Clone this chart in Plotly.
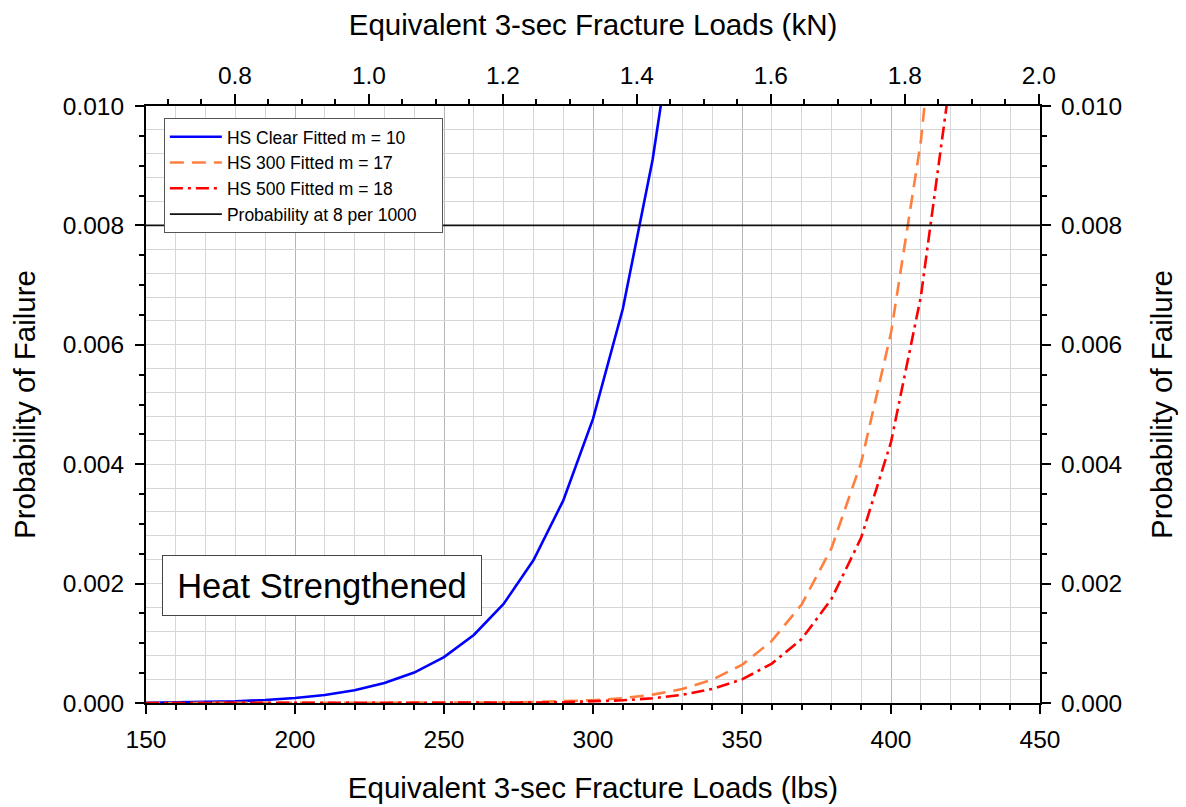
import plotly.graph_objects as go

# ---------------- data ----------------
loads_clear = [150, 160, 170, 180, 190, 200, 210, 220, 230, 240, 250, 260, 270,
               280, 290, 300, 310, 320, 330]
p_clear = [0.0000046, 0.0000087, 0.000016, 0.000028, 0.000050, 0.000083, 0.000134,
           0.000215, 0.000335, 0.00051, 0.00077, 0.00114, 0.00166, 0.00239,
           0.00339, 0.00476, 0.0066, 0.0091, 0.0124]

loads_hs = [150, 160, 170, 180, 190, 200, 210, 220, 230, 240, 250, 260, 270, 280,
            290, 300, 310, 320, 330, 340, 350, 360, 370, 380, 390, 400, 410, 420]
p_hs300 = [0.0, 0.000000001, 0.000000002, 0.000000006, 0.00000002, 0.00000005,
           0.0000001, 0.0000003, 0.0000006, 0.0000011, 0.0000021, 0.0000041,
           0.0000078, 0.0000145, 0.000026, 0.000047, 0.000081, 0.00014, 0.000235,
           0.00039, 0.00064, 0.00104, 0.00165, 0.00259, 0.00403, 0.0062, 0.0094, 0.0143]
p_hs500 = [0.0, 0.0, 0.000000001, 0.000000003, 0.000000008, 0.00000002,
           0.00000005, 0.0000001, 0.00000025, 0.0000005, 0.00000093, 0.0000019,
           0.0000037, 0.0000071, 0.0000134, 0.000025, 0.000045, 0.000079, 0.000137,
           0.000235, 0.000395, 0.00066, 0.00107, 0.00174, 0.00277, 0.00437, 0.0068, 0.0105]

threshold_x = [150, 450]
threshold_y = [0.008, 0.008]

series_names = ["HS Clear Fitted m = 10", "HS 300 Fitted m = 17",
                "HS 500 Fitted m = 18", "Probability at 8 per 1000\u00a0\u00a0\u00a0\u00a0"]

LBS_TO_KN = 0.00444822
X_RANGE = [150, 450]
Y_RANGE = [0, 0.010]

FONT = "Arial, Liberation Sans, sans-serif"

fig = go.Figure()

fig.add_trace(go.Scatter(x=loads_clear, y=p_clear, mode="lines", name=series_names[0],
                         line=dict(color="#0000ff", width=2.6)))
fig.add_trace(go.Scatter(x=loads_hs, y=p_hs300, mode="lines", name=series_names[1],
                         line=dict(color="#ff7f3f", width=2.6, dash="14px,8px")))
fig.add_trace(go.Scatter(x=loads_hs, y=p_hs500, mode="lines", name=series_names[2],
                         line=dict(color="#ff0000", width=2.6, dash="13px,5px,3px,5px")))
fig.add_trace(go.Scatter(x=threshold_x, y=threshold_y, mode="lines", name=series_names[3],
                         line=dict(color="#111111", width=1.8)))

# helper traces so the extra axes are drawn
fig.add_trace(go.Scatter(x=[X_RANGE[0] * LBS_TO_KN], y=[None], xaxis="x2", yaxis="y",
                         showlegend=False, hoverinfo="skip", mode="lines"))
fig.add_trace(go.Scatter(x=[X_RANGE[0]], y=[None], xaxis="x", yaxis="y2",
                         showlegend=False, hoverinfo="skip", mode="lines"))
fig.add_trace(go.Scatter(x=[X_RANGE[0]], y=[None], xaxis="x", yaxis="y3",
                         showlegend=False, hoverinfo="skip", mode="lines"))

tickfont = dict(family=FONT, size=24.5, color="black")
titlefont_x = dict(family=FONT, size=29.5, color="black")
titlefont_y = dict(family=FONT, size=29.5, color="black")

fig.update_layout(
    width=1186, height=807,
    margin=dict(l=138, r=154, t=98, b=112, autoexpand=False),
    paper_bgcolor="white", plot_bgcolor="white",
    font=dict(family=FONT, color="black"),
    showlegend=True,
    legend=dict(x=0.02, y=0.98, xanchor="left", yanchor="top",
                bgcolor="white", bordercolor="#555555", borderwidth=1,
                font=dict(family=FONT, size=17.5, color="black"),
                tracegroupgap=0, itemwidth=52),
    xaxis=dict(range=X_RANGE, dtick=50, tick0=0, showline=True, linecolor="black",
               linewidth=2, ticks="outside", ticklen=9, tickwidth=1.5, tickcolor="black",
               tickfont=tickfont, ticklabelstandoff=5, automargin=False,
               showgrid=True, gridcolor="#b5b5b5", gridwidth=1.3,
               zeroline=False,
               minor=dict(dtick=10, ticks="outside", ticklen=5, tickcolor="black",
                          showgrid=True, gridcolor="#d6d6d6", gridwidth=1.3),
               title=dict(text="Equivalent 3-sec Fracture Loads (lbs)", font=titlefont_x,
                          standoff=25)),
    xaxis2=dict(range=[X_RANGE[0] * LBS_TO_KN, X_RANGE[1] * LBS_TO_KN], overlaying="x",
                side="top", dtick=0.2, tick0=0, tickformat=".1f", showline=True,
                linecolor="black", linewidth=2, ticks="outside", ticklen=10,
                tickwidth=1.5, tickcolor="black", tickfont=tickfont, showgrid=False,
                zeroline=False, automargin=False,
                minor=dict(dtick=0.05, ticks="outside", ticklen=5, tickcolor="black"),
                title=dict(text="Equivalent 3-sec Fracture Loads (kN)", font=titlefont_x,
                           standoff=26)),
    yaxis=dict(range=Y_RANGE, dtick=0.002, tick0=0, tickformat=".3f", showline=True,
               linecolor="black", linewidth=2, ticks="outside", ticklen=9, tickwidth=1.5,
               tickcolor="black", tickfont=tickfont, ticklabelstandoff=6,
               showgrid=False, zeroline=False, automargin=False,
               minor=dict(dtick=0.0005, ticks="outside", ticklen=5, tickcolor="black"),
               title=dict(text="Probability of Failure", font=titlefont_y, standoff=25)),
    yaxis2=dict(range=Y_RANGE, overlaying="y", side="right", dtick=0.002, tick0=0,
                tickformat=".3f", showline=True, linecolor="black", linewidth=2,
                ticks="outside", ticklen=9, tickwidth=1.5, tickcolor="black",
                tickfont=tickfont, ticklabelstandoff=5, automargin=False,
                showgrid=False, zeroline=False,
                minor=dict(dtick=0.0005, ticks="outside", ticklen=5, tickcolor="black"),
                title=dict(text="Probability of Failure", font=titlefont_y, standoff=30)),
    yaxis3=dict(range=Y_RANGE, overlaying="y", side="left", dtick=0.0004, tick0=0,
                showticklabels=False, ticks="", showline=False, showgrid=True,
                gridcolor="#d6d6d6", gridwidth=1.3, zeroline=False, automargin=False),
    annotations=[dict(text="Heat Strengthened", xref="paper", yref="paper",
                      x=0.018, y=0.145, xanchor="left", yanchor="bottom",
                      showarrow=False, font=dict(family=FONT, size=34.5, color="black"),
                      bgcolor="white", bordercolor="#444444", borderwidth=1,
                      borderpad=8, width=302, height=43)],
)

fig.write_html("out.html")
